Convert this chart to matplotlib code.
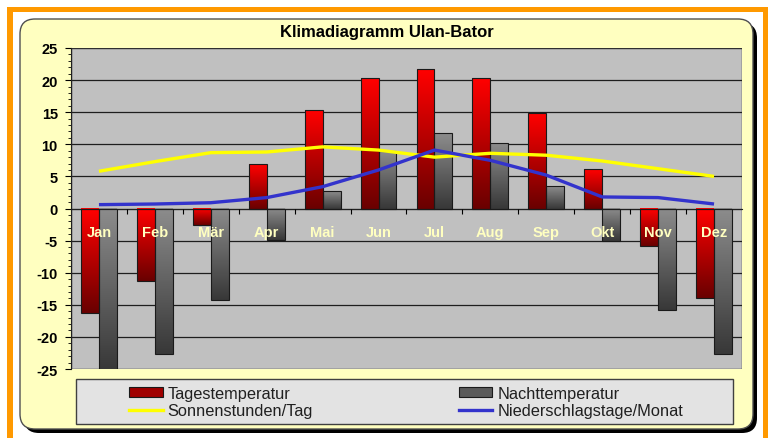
import numpy as np
import matplotlib
matplotlib.use('Agg')
import matplotlib.pyplot as plt
from matplotlib.patches import Rectangle, FancyBboxPatch, Patch
from matplotlib.colors import LinearSegmentedColormap
from matplotlib.lines import Line2D

plt.rcParams['font.family'] = ['Liberation Sans', 'DejaVu Sans']

months     = ['Jan', 'Feb', 'Mär', 'Apr', 'Mai', 'Jun', 'Jul', 'Aug', 'Sep', 'Okt', 'Nov', 'Dez']
tagestemp  = [-16.2, -11.3, -2.5, 6.9, 15.4, 20.4, 21.8, 20.4, 14.8, 6.2, -5.9, -14.0]
nachttemp  = [-25.3, -22.6, -14.2, -4.9, 2.7, 9.0, 11.8, 10.2, 3.5, -5.1, -15.8, -22.6]
sonne      = [5.8, 7.3, 8.7, 8.8, 9.6, 9.1, 8.0, 8.6, 8.3, 7.4, 6.2, 5.0]
regentage  = [0.6, 0.7, 0.9, 1.7, 3.4, 6.0, 9.1, 7.5, 5.2, 1.8, 1.7, 0.7]
yticks     = list(range(-25, 26, 5))

W, H = 773, 439
fig = plt.figure(figsize=(W / 100, H / 100), dpi=100)
inch = fig.dpi_scale_trans


def px(x, y):
    # pixel position (top-left origin) -> inches for dpi_scale_trans
    return x / 100, (H - y) / 100


# orange frame with white inside
x0, y0 = px(7, 8)
fig.add_artist(Rectangle((x0, -0.2), 7.61, y0 + 0.2, transform=inch,
                         fc='#FF9900', ec='none', zorder=0))
x0, y0 = px(13, 13)
fig.add_artist(Rectangle((x0, -0.2), 7.50, y0 + 0.2, transform=inch,
                         fc='white', ec='none', zorder=0.1))

# yellow rounded panel with black shadow
x0, y0 = px(20, 430)
pw, ph = 7.33, 4.10
fig.add_artist(FancyBboxPatch((x0 + 0.04, y0 - 0.04), pw, ph, transform=inch,
                              boxstyle='round,pad=0,rounding_size=0.15',
                              fc='black', ec='none', zorder=0.2))
fig.add_artist(FancyBboxPatch((x0, y0), pw, ph, transform=inch,
                              boxstyle='round,pad=0,rounding_size=0.15',
                              fc='#FFFFC0', ec='#505050', lw=1, zorder=0.3))

# title
tx, ty = px(387, 33)
fig.text(tx, ty, 'Klimadiagramm Ulan-Bator', transform=inch, ha='center', va='center',
         fontsize=12, fontweight='bold', zorder=1)

# legend box
lx, ly = px(76, 425)
fig.add_artist(Rectangle((lx, ly), 6.57, 0.45, transform=inch,
                         fc='#E3E3E3', ec='#404040', lw=1, zorder=0.4))

ax = fig.add_axes([71 / W, 1 - 370 / H, 671 / W, 321 / H])
ax.set_facecolor('#C0C0C0')
ax.set_zorder(1)

x = np.arange(len(months))
bw = 0.32

for v in yticks[1:-1]:
    ax.axhline(v, color='#1e1e1e', lw=0.9, zorder=1)

bars_t = ax.bar(x - bw, tagestemp, bw, align='edge', fc='none',
                ec='#1a1a1a', lw=0.8, zorder=3)
bars_n = ax.bar(x, nachttemp, bw, align='edge', fc='none',
                ec='#1a1a1a', lw=0.8, zorder=3)


def grad_fill(bars, top_col, bot_col):
    cmap = LinearSegmentedColormap.from_list('g', [bot_col, top_col])
    g = np.linspace(0, 1, 64).reshape(-1, 1)
    for b in bars:
        bx, by = b.get_x(), b.get_y()
        w, h = b.get_width(), b.get_height()
        lo, hi = min(by, by + h), max(by, by + h)
        ax.imshow(g, extent=[bx, bx + w, lo, hi], origin='lower', cmap=cmap,
                  aspect='auto', zorder=2, interpolation='bilinear')


grad_fill(bars_t, '#FF0000', '#6A0000')
grad_fill(bars_n, '#8C8C8C', '#383838')

ax.plot(x, sonne, color='#FFFF00', lw=2.4, zorder=4, solid_capstyle='butt')
ax.plot(x, regentage, color='#3333CC', lw=2.4, zorder=4, solid_capstyle='butt')

ax.set_xlim(-0.5, 11.5)
ax.set_ylim(-25, 25)

ax.add_patch(Rectangle((0, 0), 1, 1, transform=ax.transAxes, fill=False,
                       ec='#303030', lw=1, zorder=1.2))
for s in ['top', 'right']:
    ax.spines[s].set_visible(False)
ax.spines['left'].set_color('#202020')
ax.spines['bottom'].set_position(('data', 0))
ax.spines['bottom'].set_color('#202020')

ax.set_yticks(yticks)
ax.set_yticks(range(-25, 26), minor=True)
ax.set_yticklabels([str(v) for v in yticks], fontweight='bold', fontsize=10.5)
ax.tick_params(axis='y', which='major', direction='out', length=4.5, width=0.8, pad=5)
ax.tick_params(axis='y', which='minor', direction='out', length=2.5, width=0.6)

ax.set_xticks(np.arange(0.5, 11))
ax.set_xticklabels([])
ax.set_xticks(x, minor=True)
ax.set_xticklabels(months, minor=True, fontweight='bold', fontsize=10.5, color='#FFFFC0')
ax.tick_params(axis='x', which='major', direction='out', length=3.5, width=0.8)
ax.tick_params(axis='x', which='minor', length=0, pad=12)
ax.xaxis.set_zorder(5)

handles = [Patch(fc='#A00000', ec='#1a1a1a', lw=0.8),
           Line2D([], [], color='#FFFF00', lw=2.4),
           Patch(fc='#5A5A5A', ec='#1a1a1a', lw=0.8),
           Line2D([], [], color='#3333CC', lw=2.4)]
labels = ['Tagestemperatur', 'Sonnenstunden/Tag', 'Nachttemperatur', 'Niederschlagstage/Monat']
gx, gy = px(129, 403)
leg = fig.legend(handles, labels, ncol=2, loc='center left', bbox_to_anchor=(gx, gy),
                 bbox_transform=inch, frameon=False, fontsize=11.8, handlelength=2.05,
                 handleheight=0.55, handletextpad=0.3, columnspacing=8.9,
                 labelspacing=0.15, borderpad=0, borderaxespad=0)
leg.set_zorder(2)
for t in leg.get_texts():
    t.set_color('#202020')

fig.savefig('out.png', dpi=100)
